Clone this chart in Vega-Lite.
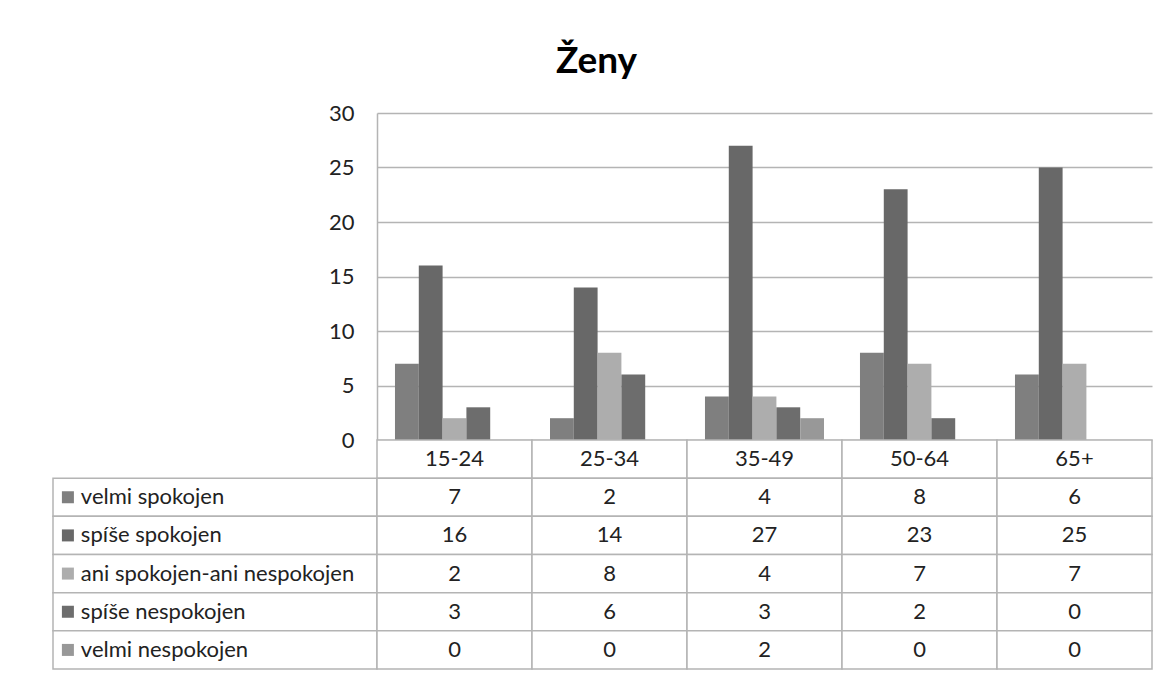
{
  "$schema": "https://vega.github.io/schema/vega-lite/v6.json",
  "padding": {"left": 52, "top": 43, "right": 0, "bottom": 0},
  "background": "white",
  "title": {"text": "Ženy", "fontSize": 37, "font": "Lato", "fontWeight": "bold", "color": "#000000", "anchor": "middle", "offset": 21, "dx": -6},
  "datasets": {
    "d": [
      {"age": "15-24", "series": "velmi spokojen", "value": 7},
      {"age": "15-24", "series": "spíše spokojen", "value": 16},
      {"age": "15-24", "series": "ani spokojen-ani nespokojen", "value": 2},
      {"age": "15-24", "series": "spíše nespokojen", "value": 3},
      {"age": "15-24", "series": "velmi nespokojen", "value": 0},
      {"age": "25-34", "series": "velmi spokojen", "value": 2},
      {"age": "25-34", "series": "spíše spokojen", "value": 14},
      {"age": "25-34", "series": "ani spokojen-ani nespokojen", "value": 8},
      {"age": "25-34", "series": "spíše nespokojen", "value": 6},
      {"age": "25-34", "series": "velmi nespokojen", "value": 0},
      {"age": "35-49", "series": "velmi spokojen", "value": 4},
      {"age": "35-49", "series": "spíše spokojen", "value": 27},
      {"age": "35-49", "series": "ani spokojen-ani nespokojen", "value": 4},
      {"age": "35-49", "series": "spíše nespokojen", "value": 3},
      {"age": "35-49", "series": "velmi nespokojen", "value": 2},
      {"age": "50-64", "series": "velmi spokojen", "value": 8},
      {"age": "50-64", "series": "spíše spokojen", "value": 23},
      {"age": "50-64", "series": "ani spokojen-ani nespokojen", "value": 7},
      {"age": "50-64", "series": "spíše nespokojen", "value": 2},
      {"age": "50-64", "series": "velmi nespokojen", "value": 0},
      {"age": "65+", "series": "velmi spokojen", "value": 6},
      {"age": "65+", "series": "spíše spokojen", "value": 25},
      {"age": "65+", "series": "ani spokojen-ani nespokojen", "value": 7},
      {"age": "65+", "series": "spíše nespokojen", "value": 0},
      {"age": "65+", "series": "velmi nespokojen", "value": 0}
    ],
    "ages": [
      {"age": "15-24"}, {"age": "25-34"}, {"age": "35-49"}, {"age": "50-64"}, {"age": "65+"}
    ],
    "series": [
      {"series": "velmi spokojen"},
      {"series": "spíše spokojen"},
      {"series": "ani spokojen-ani nespokojen"},
      {"series": "spíše nespokojen"},
      {"series": "velmi nespokojen"}
    ]
  },
  "columns": 2,
  "spacing": 0,
  "bounds": "flush",
  "align": "each",
  "concat": [
    {
      "width": 324,
      "height": 327,
      "data": {"values": [{"k": 1}]},
      "mark": {"type": "point", "opacity": 0},
      "encoding": {}
    },
    {
      "width": 775,
      "height": 327,
      "data": {"name": "d"},
      "mark": {"type": "bar"},
      "encoding": {
        "x": {
          "field": "age", "type": "nominal",
          "sort": ["15-24", "25-34", "35-49", "50-64", "65+"],
          "scale": {"paddingInner": 0.232, "paddingOuter": 0.116},
          "axis": null
        },
        "xOffset": {
          "field": "series", "type": "nominal",
          "sort": ["velmi spokojen", "spíše spokojen", "ani spokojen-ani nespokojen", "spíše nespokojen", "velmi nespokojen"],
          "scale": {"paddingInner": 0, "paddingOuter": 0}
        },
        "y": {
          "field": "value", "type": "quantitative",
          "scale": {"domain": [0, 30], "nice": false},
          "axis": {
            "values": [0, 5, 10, 15, 20, 25, 30],
            "grid": true, "gridColor": "#b4b4b4", "gridWidth": 1.5,
            "domain": true, "domainColor": "#b4b4b4", "domainWidth": 1.5,
            "ticks": false, "labelPadding": 23,
            "labelFontSize": 22, "labelFont": "Lato", "labelColor": "#222222",
            "title": null
          }
        },
        "color": {
          "field": "series", "type": "nominal",
          "scale": {
            "domain": ["velmi spokojen", "spíše spokojen", "ani spokojen-ani nespokojen", "spíše nespokojen", "velmi nespokojen"],
            "range": ["#7f7f7f", "#686868", "#adadad", "#6d6d6d", "#989898"]
          },
          "legend": null
        }
      }
    },
    {
      "width": 324,
      "height": 229,
      "data": {"name": "series"},
      "encoding": {
        "y": {
          "field": "series", "type": "nominal",
          "scale": {
            "domain": ["hdr", "velmi spokojen", "spíše spokojen", "ani spokojen-ani nespokojen", "spíše nespokojen", "velmi nespokojen"],
            "paddingInner": 0, "paddingOuter": 0
          },
          "axis": null
        }
      },
      "layer": [
        {
          "mark": {"type": "rect", "fill": "white", "stroke": "#b4b4b4", "strokeWidth": 1.5},
          "encoding": {
            "x": {"datum": 0, "type": "quantitative", "scale": {"domain": [0, 1]}, "axis": null},
            "x2": {"datum": 1}
          }
        },
        {
          "mark": {"type": "point", "shape": "square", "filled": true, "size": 144, "opacity": 1},
          "encoding": {
            "x": {"datum": 0.046, "type": "quantitative"},
            "color": {
              "field": "series", "type": "nominal",
              "scale": {
                "domain": ["velmi spokojen", "spíše spokojen", "ani spokojen-ani nespokojen", "spíše nespokojen", "velmi nespokojen"],
                "range": ["#7f7f7f", "#686868", "#adadad", "#6d6d6d", "#989898"]
              },
              "legend": null
            }
          }
        },
        {
          "mark": {"type": "text", "align": "left", "baseline": "middle", "fontSize": 22, "font": "Lato", "color": "#222222"},
          "encoding": {
            "x": {"datum": 0.086, "type": "quantitative"},
            "text": {"field": "series"}
          }
        }
      ]
    },
    {
      "width": 775,
      "height": 229,
      "encoding": {
        "x": {
          "field": "age", "type": "nominal",
          "sort": ["15-24", "25-34", "35-49", "50-64", "65+"],
          "scale": {"paddingInner": 0, "paddingOuter": 0},
          "axis": null
        }
      },
      "layer": [
        {
          "data": {"name": "ages"},
          "mark": {"type": "rect", "fill": "white", "stroke": "#b4b4b4", "strokeWidth": 1.5},
          "encoding": {
            "y": {
              "datum": "hdr", "type": "nominal",
              "scale": {
                "domain": ["hdr", "velmi spokojen", "spíše spokojen", "ani spokojen-ani nespokojen", "spíše nespokojen", "velmi nespokojen"],
                "paddingInner": 0, "paddingOuter": 0
              },
              "axis": null
            }
          }
        },
        {
          "data": {"name": "ages"},
          "mark": {"type": "text", "fontSize": 22, "font": "Lato", "color": "#222222", "baseline": "middle"},
          "encoding": {
            "y": {"datum": "hdr", "type": "nominal"},
            "text": {"field": "age"}
          }
        },
        {
          "data": {"name": "d"},
          "mark": {"type": "rect", "fill": "white", "stroke": "#b4b4b4", "strokeWidth": 1.5},
          "encoding": {
            "y": {"field": "series", "type": "nominal"}
          }
        },
        {
          "data": {"name": "d"},
          "mark": {"type": "text", "fontSize": 22, "font": "Lato", "color": "#222222", "baseline": "middle"},
          "encoding": {
            "y": {"field": "series", "type": "nominal"},
            "text": {"field": "value", "type": "quantitative"}
          }
        }
      ]
    }
  ],
  "config": {
    "view": {"stroke": null},
    "font": "Lato"
  }
}
